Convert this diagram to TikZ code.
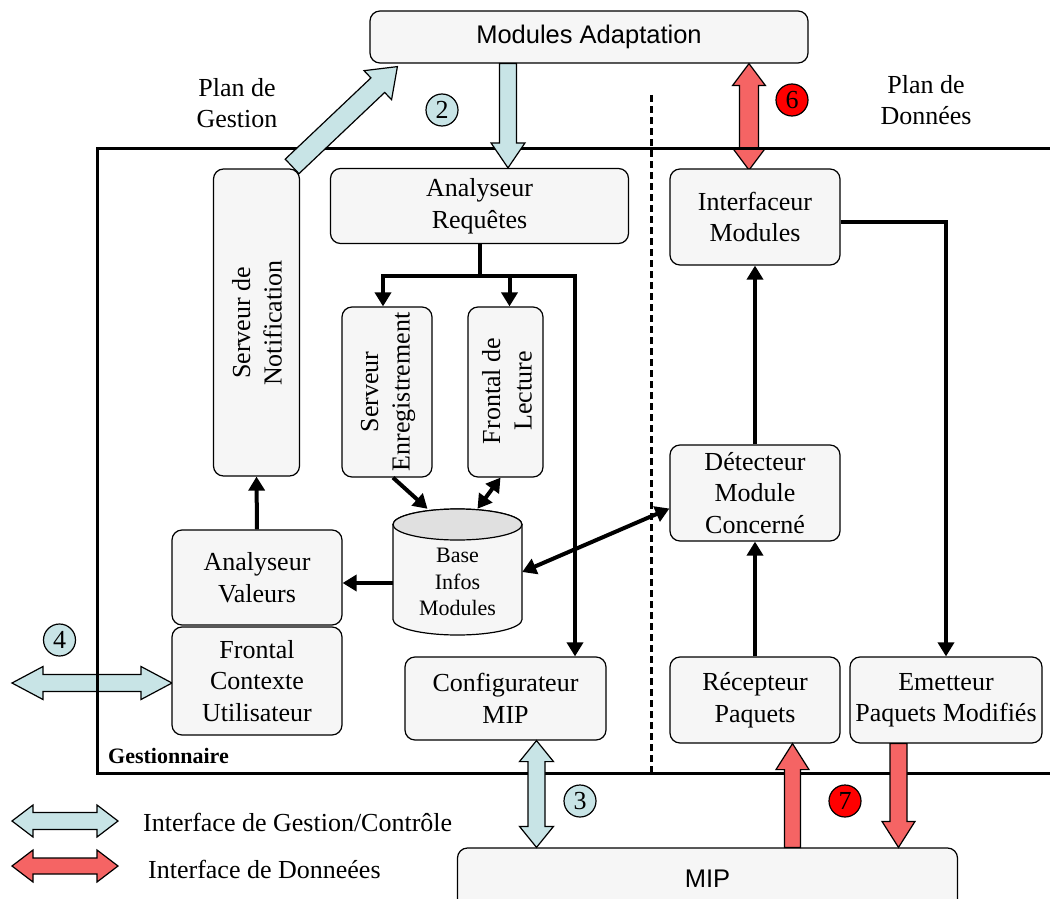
\documentclass[tikz,border=0pt]{standalone}
\usepackage{fontspec}
\setmainfont{Liberation Serif}
\newfontfamily\arialf{Liberation Sans}
\usetikzlibrary{calc,arrows.meta}
\definecolor{boxfill}{RGB}{246,246,246}
\definecolor{ltblue}{RGB}{200,228,230}
\definecolor{dred}{RGB}{245,100,100}
\definecolor{cylgray}{RGB}{224,224,224}
% single block arrow: #1 fill, #2 from, #3 to (tip), #4 half shaft, #5 half head, #6 head length
\newcommand\blkarrow[6]{%
  \coordinate (ba-n) at ($(#3)!#6!(#2)$);
  \draw[blockline, fill=#1] ($(#2)!#4!90:(#3)$) -- ($(ba-n)!#4!-90:(#2)$) -- ($(ba-n)!#5!-90:(#2)$) -- (#3) -- ($(ba-n)!#5!90:(#2)$) -- ($(ba-n)!#4!90:(#2)$) -- ($(#2)!#4!-90:(#3)$) -- cycle;
}
% double block arrow
\newcommand\blkdarrow[6]{%
  \coordinate (ba-a) at ($(#2)!#6!(#3)$);
  \coordinate (ba-b) at ($(#3)!#6!(#2)$);
  \draw[blockline, fill=#1] (#2) -- ($(ba-a)!#5!90:(#3)$) -- ($(ba-a)!#4!90:(#3)$) -- ($(ba-b)!#4!-90:(#2)$) -- ($(ba-b)!#5!-90:(#2)$) -- (#3) -- ($(ba-b)!#5!90:(#2)$) -- ($(ba-b)!#4!90:(#2)$) -- ($(ba-a)!#4!-90:(#3)$) -- ($(ba-a)!#5!-90:(#3)$) -- cycle;
}
\begin{document}
\begin{tikzpicture}[x=1pt,y=-1pt,
  box/.style={draw, line width=1.2pt, rounded corners=10pt, fill=boxfill, align=center, inner sep=0pt, font=\fontsize{26}{31.5}\selectfont},
  txt/.style={align=center, inner sep=0pt, font=\fontsize{26}{31.5}\selectfont},
  blockline/.style={line width=1.2pt, line join=miter},
  link/.style={line width=4pt},
  conn/.style={line width=4pt, -{Triangle[length=14pt,width=16pt]}},
  dconn/.style={line width=4pt, {Triangle[length=14pt,width=16pt]}-{Triangle[length=14pt,width=16pt]}},
  numc/.style={circle, draw, line width=1.2pt, minimum size=32pt, inner sep=0pt, font=\fontsize{26}{26}\selectfont},
  frame/.style={line width=3pt}
]
\useasboundingbox (0,0) rectangle (1050,899);

% ---------- boxes ----------
\node[box, minimum width=438, minimum height=52, font=\arialf\fontsize{25.5}{30}\selectfont] (adapt) at (589,37) {Modules Adaptation};
\node[box, minimum width=500, minimum height=62, font=\arialf\fontsize{25.5}{30}\selectfont] (mip) at (707.5,879) {MIP};

% ---------- block arrows under the frame ----------
\coordinate (c4) at (12,683);
\blkdarrow{ltblue}{c4}{$(172,683)$}{8.5pt}{16.5pt}{31pt}
\blkdarrow{dred}{$(adapt.south)+(160,0)$}{$(749,170)$}{9.5pt}{16.5pt}{22pt}

% ---------- frame and plane separator ----------
\draw[frame] (1060,148) -- (97,148) -- (97,773) -- (1060,773);
\draw[line width=3pt, dash pattern=on 7pt off 4pt] (651,95) -- (651,772);

% ---------- boxes inside ----------
\node[box, minimum width=86, minimum height=307] (notif) at (256.5,322.5) {};
\node[txt, rotate=90] (notifT) at (257,323) {Serveur de\\Notification};
\node[box, minimum width=298, minimum height=75] (anreq) at (479.5,206) {Analyseur\\Requêtes};
\node[box, minimum width=90, minimum height=170] (senr) at (387,392) {};
\node[txt, rotate=90] (senrT) at (388,392) {Serveur\\Enregistrement};
\node[box, minimum width=75, minimum height=170] (flect) at (505.5,392) {};
\node[txt, rotate=90] (flectT) at (507,391) {Frontal de\\Lecture};
\node[box, minimum width=170, minimum height=96] (intf) at (755,217) {Interfaceur\\Modules};
\node[box, minimum width=170, minimum height=96] (detect) at (755,493) {Détecteur\\Module\\Concerné};
\node[box, minimum width=170, minimum height=95] (anval) at (257,577.5) {Analyseur\\Valeurs};
\node[box, minimum width=170, minimum height=108] (frontal) at (257,681) {Frontal\\Contexte\\Utilisateur};
\node[box, minimum width=201, minimum height=83] (config) at (505.5,698.5) {Configurateur\\MIP};
\node[box, minimum width=170, minimum height=86] (recep) at (755,700) {Récepteur\\Paquets};
\node[box, minimum width=192, minimum height=86] (emet) at (946,700) {Emetteur\\Paquets Modifiés};

% ---------- cylinder ----------
\node[minimum width=129, minimum height=126, inner sep=0pt] (db) at (457.5,572) {};
\draw[line width=1.2pt, fill=boxfill] (393,524.5) -- (393,619.5)
  arc[start angle=180, end angle=360, x radius=64.5pt, y radius=15.5pt] -- (522,524.5)
  arc[start angle=0, end angle=180, x radius=64.5pt, y radius=15.5pt] -- cycle;
\draw[line width=1.2pt, fill=cylgray] (457.5,524.5) ellipse[x radius=64.5pt, y radius=15.5pt];
\node[txt, font=\fontsize{22}{26.5}\selectfont] (dbT) at (457.5,582) {Base\\Infos\\Modules};

% ---------- block arrows over the frame ----------
\blkarrow{ltblue}{$(notif.north east)+(-8,-2)$}{$(adapt.south west)+(28,3)$}{10pt}{20pt}{27pt}
\blkarrow{ltblue}{$(adapt.south)+(-81,0)$}{$(anreq.north)+(28.5,0)$}{8.5pt}{17pt}{25pt}
\blkdarrow{ltblue}{$(config.south)+(31,0)$}{$(mip.north)+(-171,0)$}{8.5pt}{17pt}{21pt}
\blkarrow{dred}{$(mip.north)+(85,0)$}{$(recep.south)+(37.5,0)$}{8pt}{16.5pt}{26pt}
\blkarrow{dred}{$(emet.south)+(-47.5,0)$}{$(mip.north)+(191,0)$}{8.5pt}{16.5pt}{26pt}

% ---------- connectors ----------
\coordinate (split) at (479.5,276);
\coordinate (fl) at ($(flect.north)+(4,0)$);
\draw[link] (anreq.south) -- (split);
\draw[conn] (split) -| ($(senr.north)+(-4,0)$);
\draw[conn] (split -| fl) -- (fl);
\draw[conn] (split) -| ($(config.north)+(69.5,0)$);
\draw[conn] ($(senr.south)+(6,0)$) -- ($(db.north)+(-30,0)$);
\draw[dconn] ($(flect.south)+(-5,0)$) -- ($(db.north)+(20,0)$);
\draw[dconn] (db.east) -- ($(detect.west)+(0,15.5)$);
\draw[conn] ($(db.west)+(0,11)$) -- ($(anval.east)+(0,5.5)$);
\draw[conn] (anval.north) -- (notif.south);
\draw[conn] (recep.north) -- (detect.south);
\draw[conn] (detect.north) -- (intf.south);
\draw[conn] ($(intf.east)+(0,5)$) -| (emet.north);

% ---------- numbers ----------
\node[numc, fill=ltblue] (n2) at (442,110) {2};
\node[numc, fill=red] (n6) at (792,100) {6};
\node[numc, fill=ltblue] (n4) at (59.5,640) {4};
\node[numc, fill=ltblue] (n3) at (580,801) {3};
\node[numc, fill=red] (n7) at (845,801) {7};

% ---------- labels ----------
\node[txt] (pgest) at (237,103) {Plan de\\Gestion};
\node[txt] (pdonn) at (926,100) {Plan de\\Données};
\node[anchor=west, inner sep=0pt, font=\bfseries\fontsize{22}{26}\selectfont] (gest) at (108,756) {Gestionnaire};

% ---------- legend ----------
\coordinate (l1a) at (12,821);
\coordinate (l1b) at (118,821);
\coordinate (l2a) at (12,866);
\coordinate (l2b) at (118,866);
\blkdarrow{ltblue}{l1a}{l1b}{8.5pt}{16pt}{21pt}
\blkdarrow{dred}{l2a}{l2b}{8pt}{16pt}{21pt}
\node[txt, anchor=west] (leg1) at (143,822) {Interface de Gestion/Contrôle};
\node[txt, anchor=west] (leg2) at (148,869) {Interface de Donneées};
\end{tikzpicture}
\end{document}
